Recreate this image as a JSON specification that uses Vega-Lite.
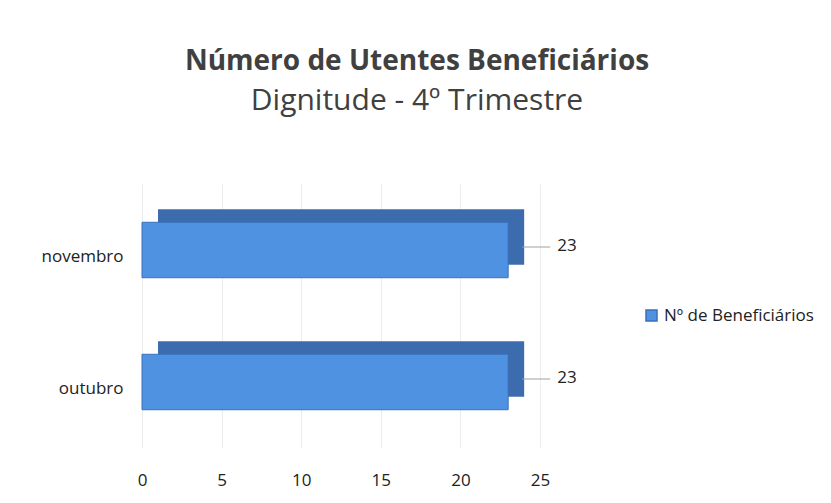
{
  "$schema": "https://vega.github.io/schema/vega-lite/v6.json",
  "width": 398,
  "height": 264,
  "autosize": {"type": "none"},
  "padding": {"left": 142, "top": 184, "right": 291, "bottom": 55},
  "background": "white",
  "config": {
    "font": "Open Sans",
    "view": {"stroke": null}
  },
  "title": {
    "text": "Número de Utentes Beneficiários",
    "subtitle": "Dignitude - 4º Trimestre",
    "anchor": "middle",
    "frame": "group",
    "dx": 76,
    "offset": 68,
    "font": "Open Sans",
    "fontSize": 28,
    "fontWeight": "bold",
    "color": "#404040",
    "subtitleFont": "Open Sans",
    "subtitleFontSize": 30,
    "subtitleColor": "#404040",
    "subtitlePadding": 10
  },
  "data": {
    "values": [
      {"mes": "novembro", "n": 23, "serie": "Nº de Beneficiários"},
      {"mes": "outubro", "n": 23, "serie": "Nº de Beneficiários"}
    ]
  },
  "encoding": {
    "y": {
      "field": "mes",
      "type": "nominal",
      "sort": ["novembro", "outubro"],
      "scale": {"paddingInner": 0.58, "paddingOuter": 0.29},
      "axis": {
        "title": null,
        "ticks": false,
        "domain": false,
        "labelPadding": 19,
        "labelOffset": 7,
        "labelFontSize": 17,
        "labelColor": "#222222",
        "labelFont": "Open Sans"
      }
    },
    "x": {
      "field": "n",
      "type": "quantitative",
      "scale": {"domain": [0, 25]},
      "axis": {
        "title": null,
        "values": [0, 5, 10, 15, 20, 25],
        "ticks": false,
        "domain": false,
        "grid": true,
        "gridColor": "#ececec",
        "labelFlush": false,
        "labelPadding": 24,
        "labelFontSize": 17,
        "labelColor": "#222222",
        "labelFont": "Open Sans"
      }
    }
  },
  "layer": [
    {
      "mark": {"type": "bar", "color": "#3d6cae", "xOffset": 16, "yOffset": -13},
      "encoding": {}
    },
    {
      "mark": {"type": "bar", "stroke": "#3a70b8", "strokeWidth": 1},
      "encoding": {
        "color": {
          "field": "serie",
          "type": "nominal",
          "scale": {"range": ["#4f92e2"]},
          "legend": {
            "title": null,
            "orient": "none",
            "legendX": 501,
            "legendY": 123,
            "symbolType": "square",
            "symbolSize": 121,
            "labelFontSize": 17,
            "labelColor": "#222222",
            "labelFont": "Open Sans"
          }
        }
      }
    },
    {
      "mark": {"type": "rule", "color": "#a0a0a0", "strokeWidth": 1, "xOffset": 14, "x2Offset": 42, "yOffset": -3},
      "encoding": {"x2": {"field": "n"}}
    },
    {
      "mark": {"type": "text", "align": "left", "dx": 49, "dy": -4, "fontSize": 17, "color": "#222222", "font": "Open Sans"},
      "encoding": {"text": {"field": "n", "type": "quantitative"}}
    }
  ]
}
